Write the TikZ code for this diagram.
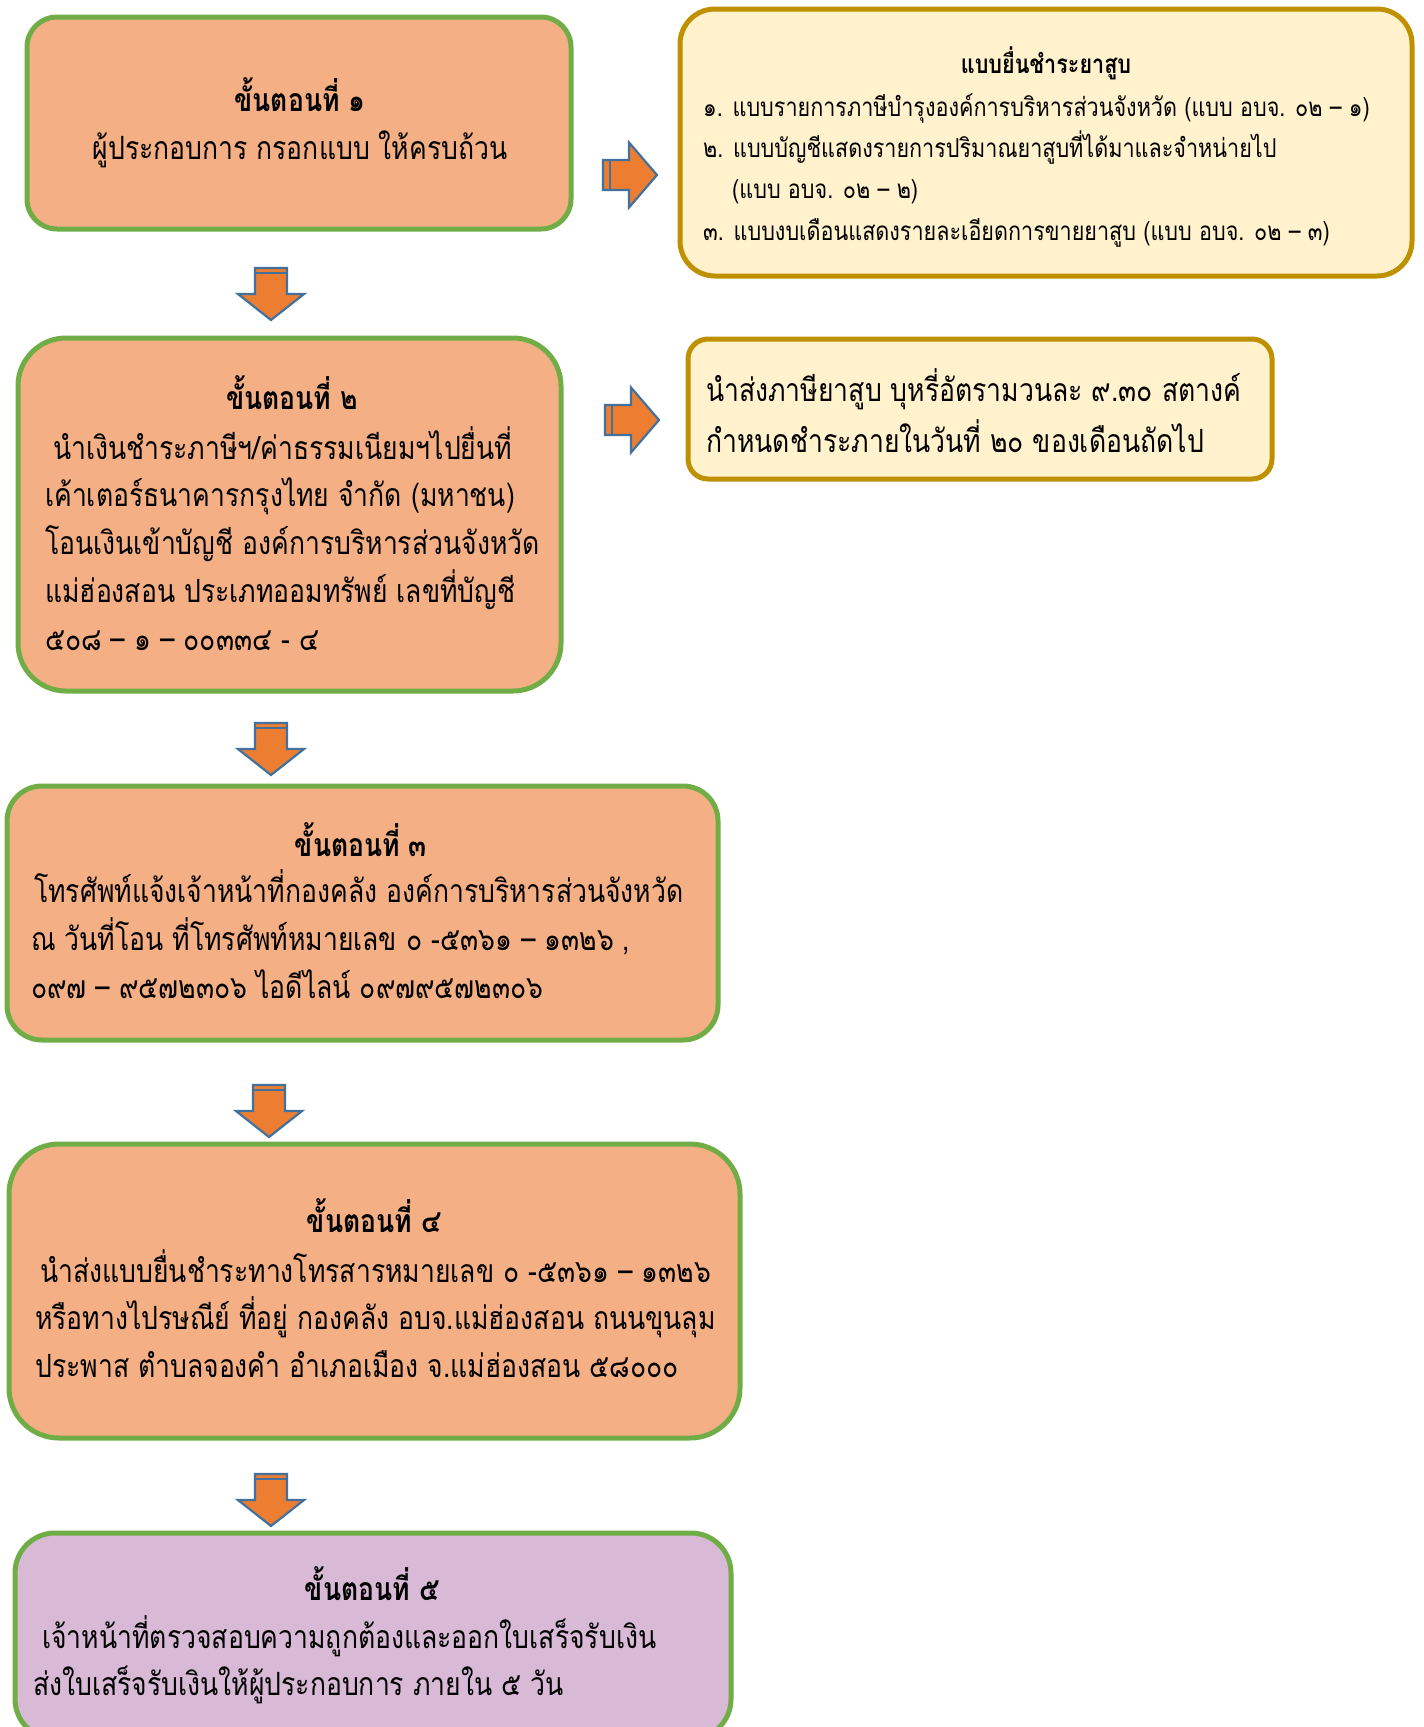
\documentclass[tikz,border=0pt]{standalone}
\usepackage{fontspec}
\setmainfont{Loma}[Script=Thai, FakeStretch=0.83]
\usetikzlibrary{positioning}
\definecolor{peche}{RGB}{244,176,132}
\definecolor{vertbord}{RGB}{112,173,71}
\definecolor{jaunefond}{RGB}{255,242,204}
\definecolor{orbord}{RGB}{191,144,0}
\definecolor{mauve}{RGB}{216,185,214}
\definecolor{orangeflec}{RGB}{237,125,49}
\definecolor{bleuflec}{RGB}{65,113,156}

\begin{document}
\begin{tikzpicture}[x=1pt,y=-1pt]
\tikzset{etape/.style={draw=vertbord, fill=peche, line width=5pt, rounded corners=40pt, inner sep=0pt},
  fiche/.style={draw=orbord, fill=jaunefond, line width=5pt, rounded corners=35pt, inner sep=0pt},
  titre/.style={font=\fontsize{32}{47.5}\selectfont\bfseries, inner sep=0pt, anchor=base},
  corps/.style={font=\fontsize{32}{47.5}\selectfont, inner sep=0pt, align=left, anchor=base west},
  fleche/.style={draw=bleuflec, fill=orangeflec, line width=2.2pt, line join=miter},
  flechebas/.pic={
    \filldraw[fleche] (-16,-52) -- (16,-52) -- (16,-26) -- (33,-26) -- (0,0) -- (-33,-26) -- (-16,-26) -- cycle;
    \draw[draw=bleuflec, line width=1.5pt] (-16,-47) -- (16,-47);},
  flechedroite/.pic={
    \filldraw[fleche] (-54,-15) -- (-28,-15) -- (-28,-32.5) -- (0,0) -- (-28,32.5) -- (-28,15) -- (-54,15) -- cycle;
    \draw[draw=bleuflec, line width=1.5pt] (-47,-15) -- (-47,15);}}
\useasboundingbox (0,0) rectangle (1424,1727);

% etape 1
\node[etape, rounded corners=30pt, minimum width=544pt, minimum height=212pt] (s1) at (299,123) {};
\node[titre] (s1t) at (300,111) {ขั้นตอนที่ ๑};
\node[titre, font=\fontsize{32}{47.5}\selectfont] (s1b) at (300,159) {ผู้ประกอบการ กรอกแบบ ให้ครบถ้วน};

% formulaires
\node[fiche, minimum width=732pt, minimum height=267pt] (f1) at (1046,142.5) {};
\node[titre, font=\fontsize{26}{40}\selectfont\bfseries] (f1t) at (1046,73) {แบบยื่นชำระยาสูบ};
\node[corps, font=\fontsize{26}{41.3}\selectfont] (f1b) at (703,240) {๑. แบบรายการภาษีบำรุงองค์การบริหารส่วนจังหวัด (แบบ อบจ. ๐๒ – ๑)\\
๒. แบบบัญชีแสดงรายการปริมาณยาสูบที่ได้มาและจำหน่ายไป\\
\hspace*{29pt}(แบบ อบจ. ๐๒ – ๒)\\
๓. แบบงบเดือนแสดงรายละเอียดการขายยาสูบ (แบบ อบจ. ๐๒ – ๓)};

% etape 2
\node[etape, rounded corners=48pt, minimum width=543pt, minimum height=353pt] (s2) at (289.5,514.5) {};
\node[titre] (s2t) at (292,409) {ขั้นตอนที่ ๒};
\node[corps, font=\fontsize{32}{47.75}\selectfont] (s2b) at (45,650) {\hspace*{8pt}นำเงินชำระภาษีฯ/ค่าธรรมเนียมฯไปยื่นที่\\
เค้าเตอร์ธนาคารกรุงไทย จำกัด (มหาชน)\\
โอนเงินเข้าบัญชี องค์การบริหารส่วนจังหวัด\\
แม่ฮ่องสอน ประเภทออมทรัพย์ เลขที่บัญชี\\
๕๐๘ – ๑ – ๐๐๓๓๔ - ๔};

% taux
\node[fiche, rounded corners=20pt, minimum width=584pt, minimum height=140pt] (f2) at (980,409) {};
\node[corps, font=\fontsize{32}{51}\selectfont] (f2b) at (706,452) {นำส่งภาษียาสูบ บุหรี่อัตรามวนละ ๙.๓๐ สตางค์\\
กำหนดชำระภายในวันที่ ๒๐ ของเดือนถัดไป};

% etape 3
\node[etape, rounded corners=35pt, minimum width=711pt, minimum height=254pt] (s3) at (362.5,913) {};
\node[titre] (s3t) at (361,856) {ขั้นตอนที่ ๓};
\node[corps, font=\fontsize{32}{48}\selectfont] (s3b) at (31,998) {\hspace*{3pt}โทรศัพท์แจ้งเจ้าหน้าที่กองคลัง องค์การบริหารส่วนจังหวัด\\
ณ วันที่โอน ที่โทรศัพท์หมายเลข ๐ -๕๓๖๑ – ๑๓๒๖ ,\\
๐๙๗ – ๙๕๗๒๓๐๖ ไอดีไลน์ ๐๙๗๙๕๗๒๓๐๖};

% etape 4
\node[etape, rounded corners=50pt, minimum width=731pt, minimum height=294pt] (s4) at (374.5,1291) {};
\node[titre] (s4t) at (374,1232) {ขั้นตอนที่ ๔};
\node[corps] (s4b) at (35,1377) {\hspace*{5pt}นำส่งแบบยื่นชำระทางโทรสารหมายเลข ๐ -๕๓๖๑ – ๑๓๒๖\\
หรือทางไปรษณีย์ ที่อยู่ กองคลัง อบจ.แม่ฮ่องสอน ถนนขุนลุม\\
ประพาส ตำบลจองคำ อำเภอเมือง จ.แม่ฮ่องสอน ๕๘๐๐๐};

% etape 5
\node[etape, fill=mauve, minimum width=716pt, minimum height=206pt] (s5) at (373,1636) {};
\node[titre] (s5t) at (372,1600) {ขั้นตอนที่ ๕};
\node[corps, font=\fontsize{32}{47}\selectfont] (s5b) at (33,1695) {\hspace*{9pt}เจ้าหน้าที่ตรวจสอบความถูกต้องและออกใบเสร็จรับเงิน\\
ส่งใบเสร็จรับเงินให้ผู้ประกอบการ ภายใน ๕ วัน};

% fleches
\pic at (271,320) {flechebas};
\pic at (271,775) {flechebas};
\pic at (269,1137) {flechebas};
\pic at (271,1526) {flechebas};
\pic at (657,175) {flechedroite};
\pic at (659,420) {flechedroite};
\end{tikzpicture}
\end{document}
